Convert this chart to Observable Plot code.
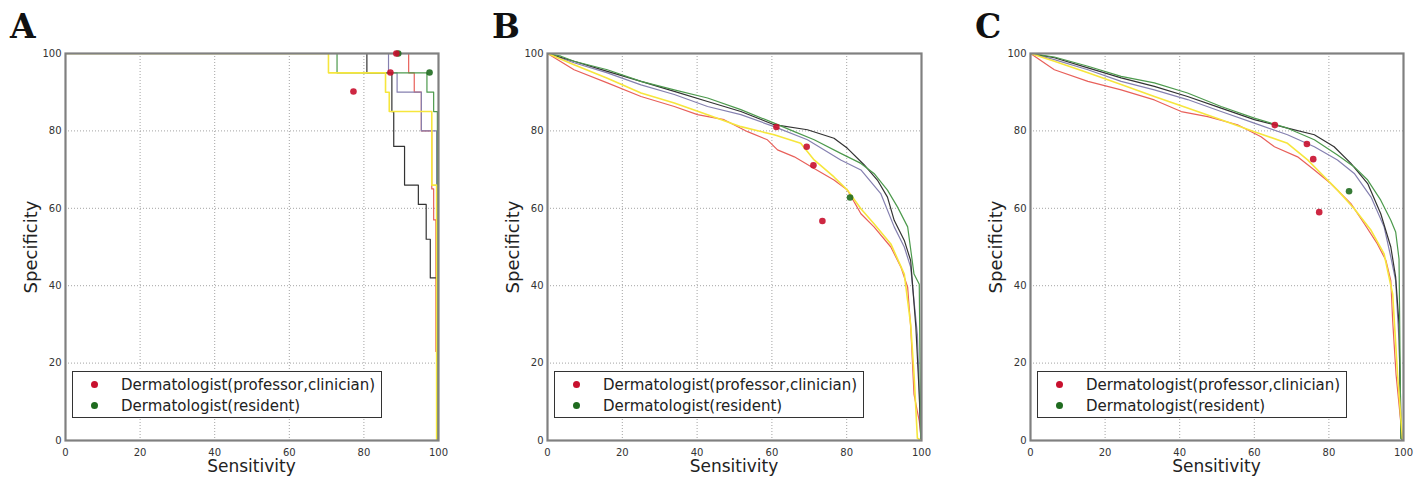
<!DOCTYPE html>
<html>
<head>
<meta charset="utf-8">
<script src="https://cdn.jsdelivr.net/npm/d3@7"></script>
<script src="https://cdn.jsdelivr.net/npm/@observablehq/plot@0.6"></script>
<style>
  body { margin: 0; background: #fff; }
  #root { position: relative; width: 1423px; height: 478px; overflow: hidden; font-family: "DejaVu Sans", sans-serif; }
  .panel { position: absolute; top: 0; }
  .letter { position: absolute; font-family: "DejaVu Serif", serif; font-weight: bold; font-size: 33px; line-height: 1; color: #111; }
  .xlab { position: absolute; font-size: 17px; color: #222; transform: translate(-50%, -50%); white-space: nowrap; }
  .ylab { position: absolute; font-size: 18px; color: #222; transform: translate(-50%, -50%) rotate(-90deg); white-space: nowrap; }
  .legend { position: absolute; width: 310px; height: 47px; border: 1px solid #333; background: #fff; box-sizing: border-box; }
  .legend .row { position: absolute; left: 0; height: 20px; font-size: 15px; color: #222; white-space: nowrap; }
  .legend .dot { position: absolute; left: 18px; top: 6px; width: 7px; height: 7px; border-radius: 50%; }
  .legend .txt { position: absolute; left: 48px; top: 0; line-height: 20px; }
</style>
</head>
<body>
<div id="root"></div>
<script>
// ---------------- DATA ----------------
const ticks = [0, 20, 40, 60, 80, 100];
const panelLetters = ["A", "B", "C"];
const axisLabelX = "Sensitivity";
const axisLabelY = "Specificity";
const legendLabels = ["Dermatologist(professor,clinician)", "Dermatologist(resident)"];
const seriesNames = ["red", "blue", "black", "green", "yellow"];

// Panel A (step curves)
const aRedSens    = [0, 92.0, 93.5, 95.4, 98.2, 98.7, 99.3, 100];
const aRedSpec    = [100, 95, 90, 80, 65, 57, 23, 0];
const aBlueSens   = [0, 86.6, 88.9, 95.4, 99.5];
const aBlueSpec   = [100, 95, 90, 80, 0];
const aBlackSens  = [0, 80.8, 87.5, 88.0, 90.9, 94.6, 96.7, 97.8, 99.7];
const aBlackSpec  = [100, 95, 85, 76, 66, 61, 52, 42, 0];
const aGreenSens  = [0, 72.8, 96.9, 98.7, 99.7];
const aGreenSpec  = [100, 95, 90, 85, 0];
const aYellowSens = [0, 70.5, 85.8, 86.8, 98.2, 99.5];
const aYellowSpec = [100, 95, 90, 85, 66, 0];
const aProfSens = [77.2, 87.1, 88.7];
const aProfSpec = [90.2, 95.1, 100];
const aResSens  = [97.6, 89.2];
const aResSpec  = [95.1, 100];

// Panel B
const bRedSens    = [0, 7.1, 16.0, 25.0, 33.9, 40.1, 47.2, 53.5, 58.8, 61.5, 66.0, 71.3, 76.6, 80.2, 83.8, 87.3, 91.8, 94.5, 96.3, 96.7, 97.1, 98.0, 99.4, 100];
const bRedSpec    = [100, 95.8, 92.4, 88.9, 86.3, 84.2, 82.9, 79.8, 77.7, 75.1, 73.3, 70.3, 67.3, 64.7, 58.6, 55.2, 50.0, 44.8, 39.6, 34.4, 29.6, 11.9, 5, 0];
const bBlueSens   = [0, 7.1, 16.0, 25.0, 33.9, 42.8, 51.7, 60.6, 69.5, 78.4, 83.8, 89.1, 92.7, 95.4, 97.1, 98.9, 99.8, 100];
const bBlueSpec   = [100, 97.6, 95.0, 91.9, 89.4, 86.3, 84.2, 81.1, 77.7, 72.5, 69.9, 63.8, 55.2, 50.0, 44.8, 27.4, 0.6, 0];
const bBlackSens  = [0, 7.1, 16.0, 25.0, 33.9, 42.8, 51.7, 60.6, 69.5, 76.6, 80.2, 84.7, 88.2, 90.9, 92.7, 95.4, 97.1, 98.5, 99.4, 99.8, 100];
const bBlackSpec  = [100, 98.0, 95.4, 92.8, 90.2, 87.6, 85.0, 81.6, 80.3, 78.1, 75.5, 71.2, 67.3, 62.9, 56.9, 51.7, 46.5, 29.2, 11.9, 0.6, 0];
const bGreenSens  = [0, 3.6, 7.1, 16.0, 25.0, 33.9, 42.8, 51.7, 60.6, 66.0, 71.3, 78.4, 83.8, 87.3, 90.9, 93.6, 96.3, 98.0, 99.4, 99.8, 100];
const bGreenSpec  = [100, 99.3, 98.0, 95.8, 92.8, 90.6, 88.5, 85.5, 82.0, 79.8, 77.7, 74.2, 71.6, 69.0, 64.7, 60.3, 55.2, 43.0, 40.4, 0.6, 0];
const bYellowSens = [0, 7.1, 16.0, 25.0, 33.9, 42.8, 51.7, 60.6, 67.7, 71.3, 76.6, 80.2, 83.8, 87.3, 91.8, 95.4, 97.1, 98.0, 98.9, 100];
const bYellowSpec = [100, 97.1, 93.6, 89.8, 87.2, 84.2, 81.1, 79.0, 76.8, 72.5, 68.1, 64.7, 59.9, 56.0, 50.8, 43.0, 30.0, 17.1, 0.6, 0];
const bProfSens = [61.2, 69.3, 71.1, 73.5];
const bProfSpec = [81.0, 75.9, 71.1, 56.7];
const bResSens  = [80.9];
const bResSpec  = [62.8];

// Panel C
const cRedSens    = [0, 6.4, 15.4, 24.3, 33.2, 40.4, 47.5, 55.5, 61.8, 65.4, 71.6, 76.1, 80.5, 85.9, 89.5, 93.0, 95.3, 96.6, 97.1, 98.0, 99.7, 100];
const cRedSpec    = [100, 95.8, 92.8, 90.6, 88.0, 85.0, 83.7, 81.6, 78.5, 75.9, 73.3, 69.9, 66.4, 61.2, 56.0, 50.8, 46.5, 41.3, 30.9, 17.1, 0.6, 0];
const cBlueSens   = [0, 6.4, 15.4, 24.3, 33.2, 42.1, 51.1, 60.0, 68.9, 76.1, 82.3, 86.8, 91.3, 94.8, 96.6, 97.9, 98.8, 99.5, 100];
const cBlueSpec   = [100, 98.4, 95.8, 92.8, 90.6, 88.1, 85.0, 82.0, 79.0, 75.9, 72.5, 69.0, 62.9, 55.2, 47.4, 41.3, 25.7, 0.6, 0];
const cBlackSens  = [0, 6.4, 15.4, 24.3, 33.2, 42.1, 51.1, 60.0, 68.9, 76.1, 81.4, 85.9, 90.4, 93.9, 96.6, 97.9, 98.8, 99.3, 100];
const cBlackSpec  = [100, 98.9, 96.3, 93.7, 91.5, 88.9, 85.9, 82.9, 80.7, 79.0, 75.9, 71.6, 66.4, 58.6, 50.0, 42.2, 30.0, 0.6, 0];
const cGreenSens  = [0, 6.4, 15.4, 24.3, 33.2, 42.1, 51.1, 60.0, 68.9, 76.1, 82.3, 86.8, 90.4, 93.9, 96.6, 97.9, 98.8, 99.3, 100];
const cGreenSpec  = [100, 99.1, 96.7, 94.1, 92.4, 89.8, 86.3, 83.3, 80.7, 77.7, 73.8, 70.7, 67.3, 62.1, 56.9, 53.9, 46.9, 0.6, 0];
const cYellowSens = [0, 6.4, 15.4, 24.3, 33.2, 42.1, 51.1, 60.0, 68.9, 74.3, 77.9, 82.3, 86.8, 91.3, 94.8, 97.1, 98.4, 99.7, 100];
const cYellowSpec = [100, 98.0, 95.0, 92.0, 88.9, 85.9, 82.9, 79.8, 76.8, 72.5, 69.0, 64.7, 59.9, 54.3, 48.2, 37.8, 17.1, 0.6, 0];
const cProfSens = [65.5, 74.1, 75.8, 77.4];
const cProfSpec = [81.5, 76.6, 72.7, 59.0];
const cResSens  = [85.4];
const cResSpec  = [64.4];

// ---------------- STYLE ----------------
const seriesColor = { red: "#e8605a", blue: "#8580b0", black: "#333333", green: "#4d9a4d", yellow: "#f6e63c" };
const seriesWidth = { red: 1.2, blue: 1.2, black: 1.2, green: 1.2, yellow: 1.6 };
const profColor = "#c8102e";
const resColor = "#1f6b1f";

const pairs = (xs, ys) => xs.map((x, i) => ({ sens: x, spec: ys[i] }));

const panels = [
  { curves: { red: pairs(aRedSens, aRedSpec), blue: pairs(aBlueSens, aBlueSpec), black: pairs(aBlackSens, aBlackSpec), green: pairs(aGreenSens, aGreenSpec), yellow: pairs(aYellowSens, aYellowSpec) },
    prof: pairs(aProfSens, aProfSpec), res: pairs(aResSens, aResSpec), curve: "step-after",
    left: 0, width: 480, ml: 65, mr: 42 },
  { curves: { red: pairs(bRedSens, bRedSpec), blue: pairs(bBlueSens, bBlueSpec), black: pairs(bBlackSens, bBlackSpec), green: pairs(bGreenSens, bGreenSpec), yellow: pairs(bYellowSens, bYellowSpec) },
    prof: pairs(bProfSens, bProfSpec), res: pairs(bResSens, bResSpec), curve: "linear",
    left: 480, width: 480, ml: 67, mr: 39 },
  { curves: { red: pairs(cRedSens, cRedSpec), blue: pairs(cBlueSens, cBlueSpec), black: pairs(cBlackSens, cBlackSpec), green: pairs(cGreenSens, cGreenSpec), yellow: pairs(cYellowSens, cYellowSpec) },
    prof: pairs(cProfSens, cProfSpec), res: pairs(cResSens, cResSpec), curve: "linear",
    left: 960, width: 463, ml: 70, mr: 20 }
];

const root = document.getElementById("root");
const MT = 53, MB = 38, H = 478;

panels.forEach((p, i) => {
  const lineMarks = seriesNames.map(name =>
    Plot.line(p.curves[name], { x: "sens", y: "spec", curve: p.curve, stroke: seriesColor[name], strokeWidth: seriesWidth[name], clip: "frame" })
  );
  const svg = Plot.plot({
    width: p.width, height: H,
    marginLeft: p.ml, marginRight: p.mr, marginTop: MT, marginBottom: MB,
    x: { domain: [0, 100], label: null },
    y: { domain: [0, 100], label: null },
    style: { fontFamily: "DejaVu Sans, sans-serif", fontSize: "10px", color: "#333", background: "transparent" },
    marks: [
      Plot.gridX(ticks, { stroke: "#999", strokeOpacity: 0.9, strokeDasharray: "1,2" }),
      Plot.gridY(ticks, { stroke: "#999", strokeOpacity: 0.9, strokeDasharray: "1,2" }),
      ...lineMarks,
      Plot.frame({ stroke: "#808080", strokeWidth: 2.2 }),
      Plot.dot(p.res, { x: "sens", y: "spec", r: 3.3, fill: resColor, fillOpacity: 0.9 }),
      Plot.dot(p.prof, { x: "sens", y: "spec", r: 3.3, fill: profColor, fillOpacity: 0.9 }),
      Plot.axisX(ticks, { tickSize: 0, tickPadding: 8, label: null }),
      Plot.axisY(ticks, { tickSize: 0, tickPadding: 4, label: null })
    ]
  });
  svg.classList.add("panel");
  svg.style.left = p.left + "px";
  root.appendChild(svg);

  const frameL = p.left + p.ml, frameR = p.left + p.width - p.mr;

  const letter = document.createElement("div");
  letter.className = "letter";
  letter.textContent = panelLetters[i];
  letter.style.left = (frameL - 55) + "px";
  letter.style.top = "10px";
  root.appendChild(letter);

  const xl = document.createElement("div");
  xl.className = "xlab";
  xl.textContent = axisLabelX;
  xl.style.left = ((frameL + frameR) / 2) + "px";
  xl.style.top = "466px";
  root.appendChild(xl);

  const yl = document.createElement("div");
  yl.className = "ylab";
  yl.textContent = axisLabelY;
  yl.style.left = (frameL - 35) + "px";
  yl.style.top = ((MT + H - MB) / 2) + "px";
  root.appendChild(yl);

  const lg = document.createElement("div");
  lg.className = "legend";
  lg.style.left = (frameL + 7) + "px";
  lg.style.top = "371px";
  [[profColor, legendLabels[0], 3], [resColor, legendLabels[1], 24]].forEach(([c, t, top]) => {
    const row = document.createElement("div");
    row.className = "row";
    row.style.top = top + "px";
    row.innerHTML = `<span class="dot" style="background:${c}"></span><span class="txt"></span>`;
    row.querySelector(".txt").textContent = t;
    lg.appendChild(row);
  });
  root.appendChild(lg);
});
</script>
</body>
</html>
